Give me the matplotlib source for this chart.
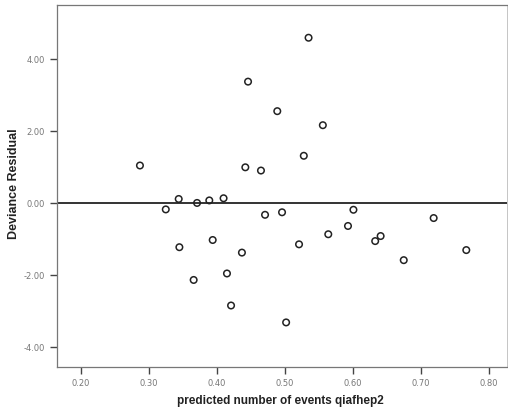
import matplotlib
matplotlib.use("Agg")
import matplotlib.pyplot as plt

predicted = [0.287, 0.325, 0.344, 0.371, 0.389, 0.410, 0.442, 0.446, 0.465,
             0.535, 0.489, 0.556, 0.528, 0.471, 0.496, 0.601, 0.719, 0.345,
             0.394, 0.437, 0.366, 0.415, 0.421, 0.521, 0.564, 0.593, 0.633,
             0.641, 0.675, 0.767, 0.502]
residual = [1.04, -0.18, 0.11, 0.00, 0.07, 0.13, 0.99, 3.37, 0.90,
            4.59, 2.55, 2.16, 1.31, -0.33, -0.26, -0.19, -0.42, -1.23,
            -1.03, -1.38, -2.14, -1.96, -2.85, -1.15, -0.87, -0.64, -1.06,
            -0.92, -1.59, -1.31, -3.32]
xticks = [0.20, 0.30, 0.40, 0.50, 0.60, 0.70, 0.80]
yticks = [-4.0, -2.0, 0.0, 2.0, 4.0]

fig = plt.figure(figsize=(5.08, 4.10), dpi=100)
ax = fig.add_axes([0.1122, 0.1032, 0.886, 0.8822])
ax.scatter(predicted, residual, s=22, facecolors='none', edgecolors='#222222',
           linewidths=1.1, zorder=3)
ax.axhline(0, color='#111111', linewidth=1.2, zorder=2)
ax.set_xlim(0.165, 0.827)
ax.set_ylim(-4.55, 5.5)
ax.set_xticks(xticks)
ax.set_xticklabels([f"{v:.2f}" for v in xticks])
ax.set_yticks(yticks)
ax.set_yticklabels([f"{v:.2f}".replace("-0.00", "0.00") for v in yticks])
for s in ['left', 'bottom', 'top']:
    ax.spines[s].set_color('#777777')
    ax.spines[s].set_linewidth(0.9)
ax.spines['right'].set_color('#bbbbbb')
ax.spines['right'].set_linewidth(0.6)
ax.tick_params(axis='both', direction='out', length=5, width=1.0,
               color='#444444', labelsize=6, labelcolor='#777777')
fig.text(280 / 508, 1 - 401 / 410, "predicted number of events qiafhep2",
         fontsize=8.5, fontweight='bold', color='#222222',
         family='Liberation Sans', ha='center', va='center')
fig.text(14 / 508, 1 - 184 / 410, "Deviance Residual", rotation=90,
         fontsize=9, fontweight='bold', color='#222222',
         family='Liberation Sans', ha='center', va='center')
fig.savefig("out.png", dpi=100)
